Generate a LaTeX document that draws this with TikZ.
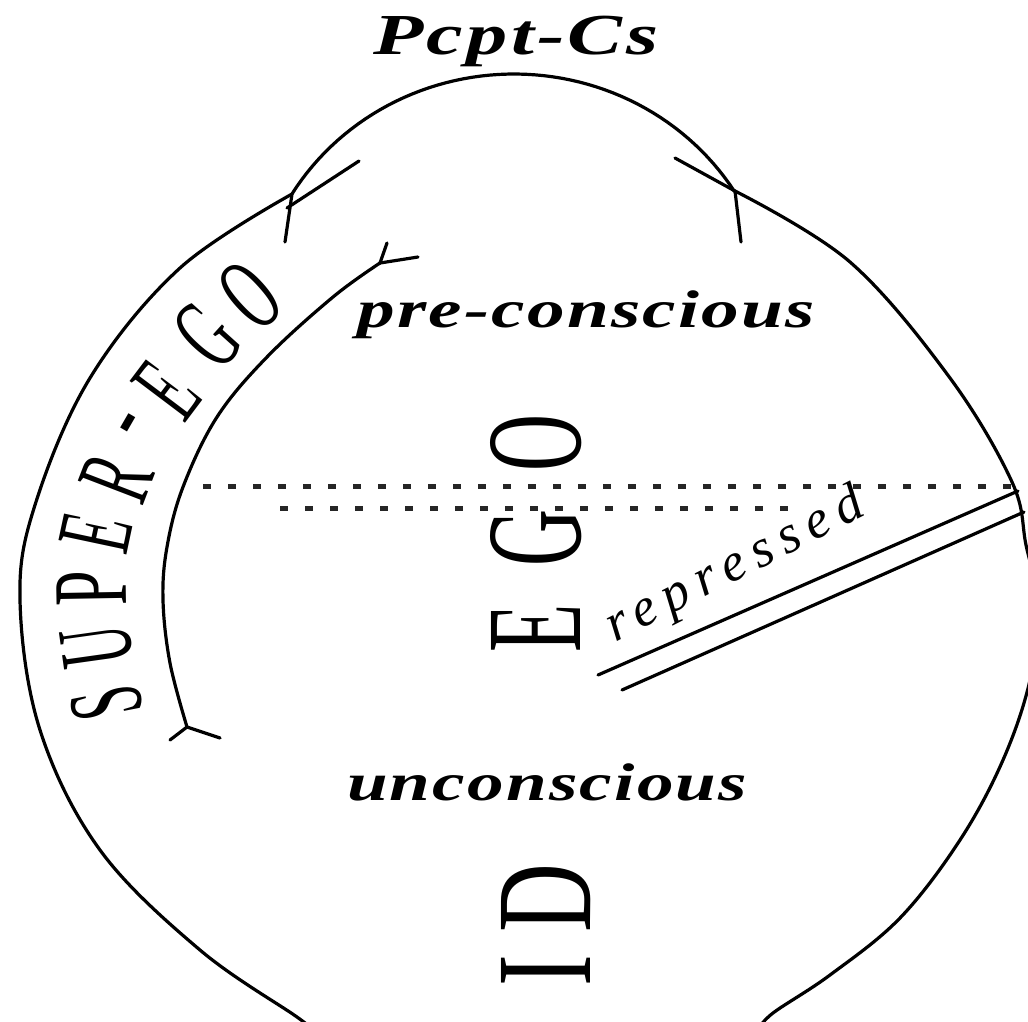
\documentclass[tikz,border=0pt]{standalone}
\usepackage{fontspec}
\usepackage{graphicx}
\setmainfont{Liberation Serif}

\tikzset{
  psyline/.style={line width=3.2pt, line cap=round, line join=round},
  dotline/.style={line width=5pt, dash pattern=on 8pt off 17pt, black!85},
  capsletter/.style={inner sep=0pt, font=\fontsize{106}{106}\selectfont},
  bigcaps/.style={inner sep=0pt, anchor=base west, rotate=90},
  zonetext/.style={inner sep=0pt, anchor=base west,
    font=\fontsize{53}{53}\selectfont\bfseries\itshape\addfontfeatures{LetterSpace=3}},
}
\newcommand{\narrow}[2]{\scalebox{#1}[1]{#2}}

\begin{document}
\begin{tikzpicture}[x=1pt, y=-1pt]
  \clip (0,0) rectangle (1028,1021);
  \fill[white] (0,0) rectangle (1028,1021);

  \coordinate (capL) at (292,194);
  \coordinate (capR) at (735,191);

  % Pcpt-Cs cap
  \draw[psyline] plot[domain=-148.6:-32, samples=60]
    ({514+260*cos(\x)}, {324+250*sin(\x)});

  % body outline, left and right of the cap
  \draw[psyline] plot[smooth, tension=0.6] coordinates {
    (capL) (180,268) (90,378) (35,505) (20,600) (40,730) (100,850)
    (200,950) (297,1017) (312,1030)};
  \draw[psyline] plot[smooth, tension=0.6] coordinates {
    (capR) (850,262) (950,378) (1012,482) (1026,545) (1038,605)
    (1030,680) (1003,760) (960,840) (900,918) (830,975) (773,1013)
    (758,1030)};

  % forks where the cap meets the body
  \draw[psyline] (capL) -- (285,242);
  \draw[psyline] (287,208) -- (359,161);
  \draw[psyline] (capR) -- (741,242);
  \draw[psyline] (675,158) -- (capR);

  % inner border of the super-ego band, forked at both ends
  \coordinate (sgTop) at (380,263);
  \coordinate (sgBot) at (187,727);
  \draw[psyline] plot[smooth, tension=0.6] coordinates {
    (sgTop) (333,297) (267,357) (217,417) (183,487) (167,547) (163,600)
    (170,663) (sgBot)};
  \draw[psyline] (sgTop) -- (387,243);
  \draw[psyline] (sgTop) -- (418,257);
  \draw[psyline] (sgBot) -- (170,740);
  \draw[psyline] (sgBot) -- (220,738);

  % SUPER-EGO set letter by letter along the band
  \foreach \ltr/\px/\py/\ang/\sq [count=\i] in
    {S/107/703/101/0.52, U/97/647/98/0.52, P/91/588/91/0.6, E/96/533/78/0.52,
     R/117/478/69/0.52, -/137/428/60/0.6, E/167/390/53/0.52,
     G/207/336/48/0.52, O/250/295/42/0.52}
    \node[capsletter, rotate=\ang] (se\i) at (\px,\py) {\narrow{\sq}{\ltr}};

  % dotted borders
  \coordinate (dotA1) at (203,486);
  \coordinate (dotA2) at (1012,486);
  \coordinate (dotB1) at (280,508);
  \coordinate (dotB2) at (795,508);
  \draw[dotline] (dotA1) -- (dotA2);
  \draw[dotline] (dotB1) -- (dotB2);

  % repressed: double line
  \coordinate (repA1) at (598,675);
  \coordinate (repA2) at (1018,491);
  \coordinate (repB1) at (622,690);
  \coordinate (repB2) at (1024,512);
  \draw[psyline] (repA1) -- (repA2);
  \draw[psyline] (repB1) -- (repB2);

  \node[inner sep=0pt, anchor=base west,
    font=\fontsize{58}{58}\selectfont\bfseries\itshape\addfontfeatures{LetterSpace=4}]
    (pcpt) at (373,54) {\narrow{1.42}{Pcpt-Cs}};
  \node[zonetext] (precs) at (357,327) {\narrow{1.42}{pre-conscious}};
  \node[zonetext] (uncs) at (347,800) {\narrow{1.38}{unconscious}};
  \node[bigcaps, font=\fontsize{136}{136}\selectfont\addfontfeatures{LetterSpace=48}]
    (ego) at (580,653) {\narrow{0.58}{EGO}};
  \node[bigcaps, font=\fontsize{136}{136}\selectfont\addfontfeatures{LetterSpace=24}]
    (id) at (590,987) {\narrow{0.7}{ID}};
  \node[inner sep=0pt, anchor=base west, rotate=27,
    font=\fontsize{54}{54}\selectfont\itshape\addfontfeatures{LetterSpace=18}]
    (repr) at (615,643) {repressed};
\end{tikzpicture}
\end{document}
